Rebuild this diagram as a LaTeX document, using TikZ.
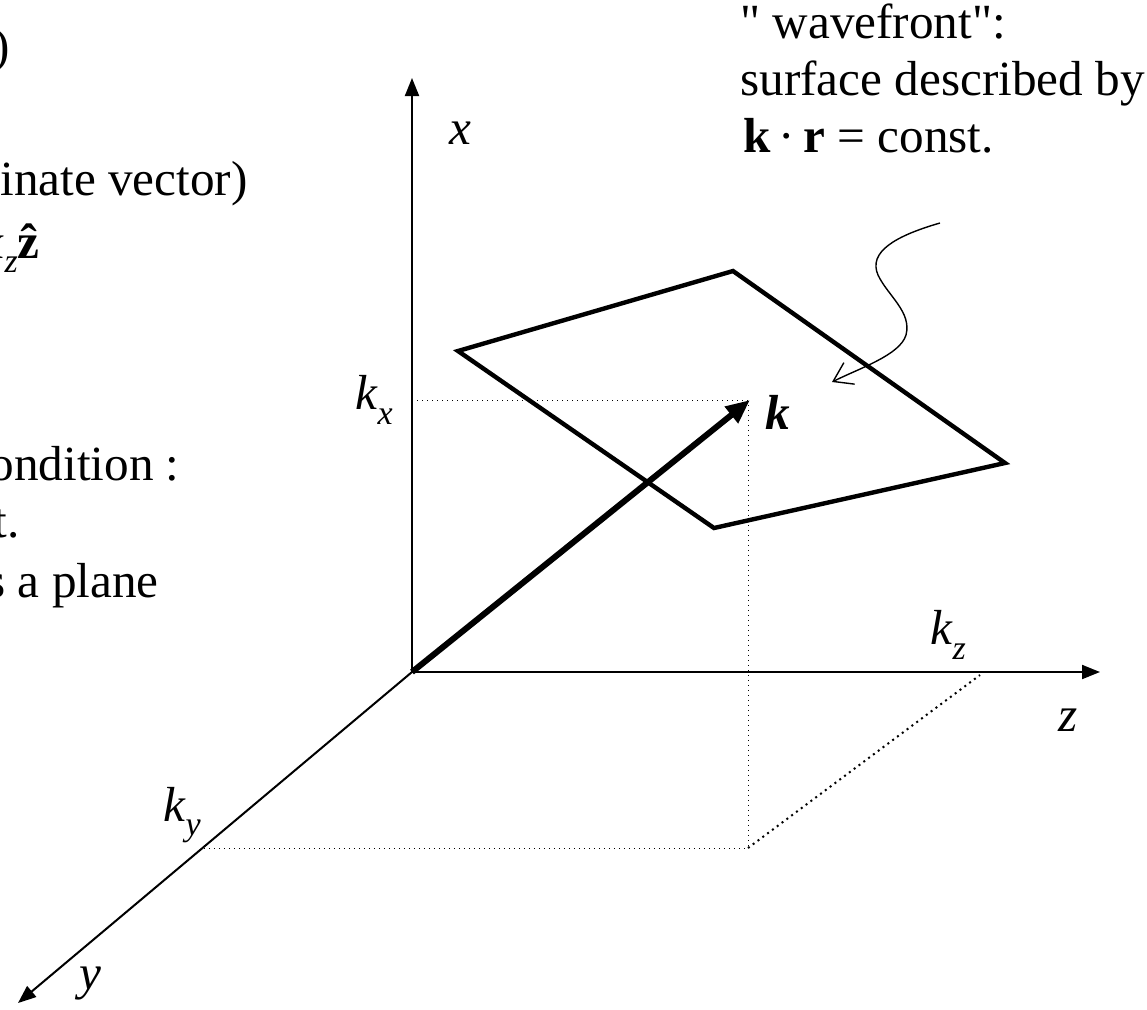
\documentclass[tikz,border=0pt]{standalone}
\usepackage{fontspec}
\setmainfont{Liberation Serif}
\newfontfamily\plainserif{Liberation Serif}
\usetikzlibrary{arrows.meta}
\newcommand\isub[2]{\textit{#1}\raisebox{-0.3em}{\fontsize{17}{17}\selectfont\textit{#2}}}
\tikzset{
  lbl/.style={inner sep=0pt, font=\fontsize{24.6}{29}\selectfont},
  axisline/.style={line width=1pt, -{Triangle[length=9pt,width=7pt]}},
  guide/.style={line width=0.5pt, dotted},
  guidebold/.style={line width=1pt, dotted},
  planeedge/.style={line width=2.2pt, line join=miter},
  kvec/.style={line width=3pt, -{Triangle[length=12pt,width=10pt]}},
  pointer/.style={line width=0.7pt, -{Straight Barb[length=9pt,width=12pt]}}
}
\begin{document}
\begin{tikzpicture}[x=0.5pt,y=-0.5pt]
\useasboundingbox (0,0) rectangle (1147,1009);
% coordinates
\coordinate (O) at (412,672);
\coordinate (X) at (412,78);
\coordinate (Z) at (1100,672);
\coordinate (Y) at (18,1003);
\coordinate (K) at (750,400);
\coordinate (KX) at (412,400);
\coordinate (KV) at (748,405);
\coordinate (P) at (748,848);
\coordinate (KY) at (204,848);
\coordinate (KZ) at (980,675);
\coordinate (A) at (458,351);
\coordinate (B) at (733,271);
\coordinate (C) at (1005,463);
\coordinate (D) at (714,528);
% guides
\draw[guide] (KX) -- (K);
\draw[guide] (KV) -- (P);
\draw[guide] (KY) -- (P);
\draw[guidebold] (P) -- (KZ);
% axes
\draw[axisline] (O) -- (X);
\draw[axisline] (O) -- (Z);
\draw[axisline] (O) -- (Y);
% plane
\draw[planeedge] (A) -- (B) -- (C) -- (D) -- cycle;
% k vector
\draw[kvec] (O) -- (K);
% pointer
\coordinate (S) at (940,223);
\coordinate (E) at (832,382);
\draw[pointer] (S) .. controls (895,236) and (868,252) .. (878,275)
  .. controls (888,296) and (912,312) .. (906,335)
  .. controls (900,355) and (860,368) .. (E);
% axis labels
\node[lbl] (lx) at (460,133) {\textit{x}};
\node[lbl] (lz) at (1068,720) {\textit{z}};
\node[lbl] (ly) at (90,983) {\textit{y}};
\node[lbl] (lkx) at (374,400) {\isub{k}{x}};
\node[lbl] (lky) at (182,815) {\isub{k}{y}};
\node[lbl] (lkz) at (948,635) {\isub{k}{z}};
\node[lbl] (lk) at (778,412) {\bfseries\itshape k};
% right text
\node[lbl, anchor=base west] (w1) at (740,38) {{\plainserif "} wavefront{\plainserif "}:};
\node[lbl, anchor=base west] (w2) at (740,95) {surface described by};
\node[lbl, anchor=base west] (w3) at (743,152) {\textbf{k}\,·\,\textbf{r} = const.};
% left text (clipped by the picture's edge, as in the reference)
\begin{scope}
\clip (0,0) rectangle (1147,1009);
\node[lbl, anchor=base east] (t1) at (10,62) {(\textbf{k}·\textbf{r} − \textit{ωt})};
\node[lbl, anchor=base east] (t2) at (248,195) {\textbf{r} = (\textit{x}, \textit{y}, \textit{z}) (coordinate vector)};
\node[lbl, anchor=base east] (t3) at (40,258) {\textbf{k} = \isub{k}{x}\textbf{\^x} + \isub{k}{y}\textbf{\^y} + \isub{k}{z}\textbf{\^z}};
\node[lbl, anchor=base east] (t4) at (180,480) {Wavefront condition :};
\node[lbl, anchor=base east] (t5) at (20,537) {\textbf{k}·\textbf{r} = const.};
\node[lbl, anchor=base east] (t6) at (159,597) {describes a plane};
\end{scope}
\end{tikzpicture}
\end{document}
